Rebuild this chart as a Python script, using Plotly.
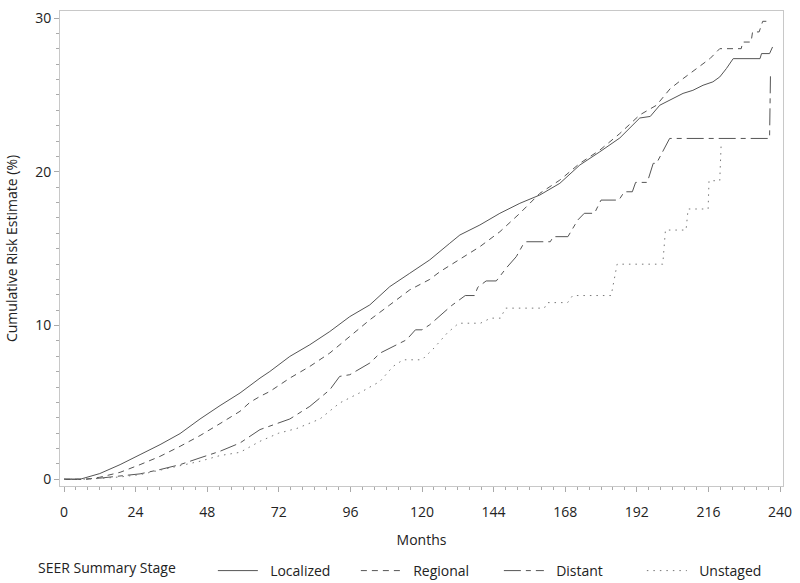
import plotly.graph_objects as go

# Months / cumulative risk (%)
loc_m = [0, 5.4, 12, 18.8, 25.5, 32.2, 38.9, 45.6, 52.3, 59, 65.7, 69, 75.7, 82.4, 89.1, 95.8,
         102.5, 109.2, 115.9, 122.6, 129.3, 132.7, 139.4, 146.1, 152.8, 159.5, 166.2, 172.9,
         179.6, 186.3, 193, 196.5, 199.7, 203, 207.5, 210.8, 214.2, 217.5, 219.8, 222, 224.3,
         233.3, 233.8, 236.5, 237.5]
loc_v = [0, 0, 0.37, 0.95, 1.6, 2.25, 2.97, 3.92, 4.79, 5.61, 6.58, 7.01, 7.99, 8.75, 9.61, 10.58,
         11.34, 12.53, 13.4, 14.27, 15.35, 15.89, 16.54, 17.3, 17.95, 18.49, 19.25, 20.44,
         21.3, 22.2, 23.5, 23.6, 24.33, 24.66, 25.1, 25.3, 25.63, 25.85, 26.17, 26.71, 27.36,
         27.36, 27.69, 27.69, 28.12]

reg_m = [0, 7.6, 12, 18.8, 25.5, 32.2, 38.9, 45.6, 52.3, 59, 62.3, 65.7, 69, 75.7, 82.4, 89.1,
         95.8, 102.5, 109.2, 115.9, 122.6, 126, 129.3, 132.7, 139.4, 146.1, 152.8, 159.5, 166.2,
         172.9, 179.6, 186.3, 193, 198.6, 203, 203.2, 207.5, 212, 216.5, 219.8, 227, 227.5,
         230.3, 230.8, 233, 234.2, 237]
reg_v = [0, 0, 0.13, 0.45, 0.95, 1.49, 2.14, 2.84, 3.62, 4.42, 5.0, 5.39, 5.71, 6.58, 7.34, 8.21,
         9.29, 10.37, 11.34, 12.32, 13.0, 13.5, 13.9, 14.3, 15.13, 16.1, 17.3, 18.6, 19.46,
         20.55, 21.41, 22.49, 23.7, 24.33, 25.3, 25.41, 26.06, 26.71, 27.36, 28.01, 28.01, 28.44,
         28.44, 29.1, 29.1, 29.79, 29.79]

dis_m = [0, 6, 12, 18.8, 25.5, 32.2, 38.9, 45.6, 52.3, 59, 65.7, 75.7, 82.4, 89.1, 92.4, 95.8,
         102.5, 106, 110.3, 114.8, 117.8, 120, 122.6, 127, 129.8, 134.5, 137.6, 138.7, 141.5,
         144.9, 148.2, 151.6, 153.8, 155, 163, 164, 168.9, 172.2, 174.4, 177.8, 180, 186, 187.8,
         190.5, 191.6, 195.5, 197.5, 198.6, 200.8, 203, 236.5, 236.8]
dis_v = [0, 0, 0.07, 0.2, 0.35, 0.63, 0.95, 1.39, 1.82, 2.36, 3.23, 3.92, 4.74, 5.82, 6.69, 6.8,
         7.56, 8.21, 8.64, 9.07, 9.72, 9.72, 10.05, 10.8, 11.28, 11.95, 11.95, 12.49, 12.9,
         12.9, 13.73, 14.48, 15.24, 15.45, 15.45, 15.78, 15.78, 16.86, 17.3, 17.3, 18.16, 18.16, 18.7,
         18.7, 19.31, 19.31, 20.55, 20.55, 21.4, 22.17, 22.17, 26.3]

uns_m = [0, 6, 12, 18.8, 25.5, 32.2, 38.9, 45.6, 52.3, 59, 65.7, 72, 78, 85.8, 92.4, 99, 105.9,
         110.3, 113.7, 120, 124, 128.4, 132.3, 139.6, 143, 146.3, 148, 161, 162, 168.8, 170.5,
         183.4, 185.4, 200.7, 201.6, 208.5, 209.2, 215.9, 216.2, 219.8, 220.3]
uns_v = [0, 0, 0.05, 0.15, 0.3, 0.6, 0.9, 1.17, 1.54, 1.75, 2.47, 3.0, 3.3, 3.92, 4.96, 5.61, 6.36,
         7.34, 7.77, 7.77, 8.53, 9.5, 10.15, 10.15, 10.48, 10.48, 11.13, 11.13, 11.49, 11.49, 11.95,
         11.95, 13.99, 13.99, 16.21, 16.21, 17.58, 17.58, 19.42, 19.42, 21.95]

x_ticks = [0, 24, 48, 72, 96, 120, 144, 168, 192, 216, 240]
y_ticks = [0, 10, 20, 30]

FONT = "Open Sans"
LINE = "#555555"
TXT = "#222222"
PAD = "\u00a0\u00a0"

fig = go.Figure()
fig.add_trace(go.Scatter(x=loc_m, y=loc_v, mode="lines", name=PAD + "Localized",
                         line=dict(color=LINE, width=1)))
fig.add_trace(go.Scatter(x=reg_m, y=reg_v, mode="lines", name=PAD + "Regional",
                         line=dict(color=LINE, width=1, dash="6px,5px")))
fig.add_trace(go.Scatter(x=dis_m, y=dis_v, mode="lines", name=PAD + "Distant",
                         line=dict(color=LINE, width=1, dash="17px,5px,5px,5px")))
fig.add_trace(go.Scatter(x=uns_m, y=uns_v, mode="lines", name=PAD + "Unstaged",
                         line=dict(color="#777777", width=1, dash="1.5px,5px")))

axis_common = dict(
    showgrid=False, zeroline=False, showline=True, mirror=True, automargin=False,
    linecolor="#c8c8c8", linewidth=1, ticks="outside", ticklen=5, tickcolor="#aaaaaa",
    tickfont=dict(family=FONT, size=14, color=TXT),
)

fig.update_xaxes(
    range=[-1.34, 241.0], tickvals=x_ticks, ticklabelstandoff=8,
    minor=dict(dtick=4, ticks="outside", ticklen=3, tickcolor="#aaaaaa"),
    title=dict(text="Months", font=dict(family=FONT, size=14, color=TXT), standoff=15),
    **axis_common,
)
fig.update_yaxes(
    range=[-0.44, 30.46], tickvals=y_ticks,
    minor=dict(dtick=1, ticks="outside", ticklen=3, tickcolor="#aaaaaa"),
    title=dict(text="Cumulative Risk Estimate (%)", font=dict(family=FONT, size=14, color=TXT),
               standoff=14),
    **axis_common,
)

fig.update_layout(
    width=800, height=583,
    margin=dict(l=60, r=17, t=11, b=97),
    paper_bgcolor="white", plot_bgcolor="white",
    font=dict(family=FONT, size=14, color=TXT),
    legend=dict(
        orientation="h", xref="container", yref="container",
        x=0.045, y=(583 - 571) / 583, xanchor="left", yanchor="middle",
        title=dict(text="SEER Summary Stage" + "\u00a0" * 8, side="left",
                   font=dict(family=FONT, size=14, color=TXT)),
        font=dict(family=FONT, size=14, color=TXT),
        entrywidth=88, entrywidthmode="pixels", itemwidth=40,
        bgcolor="rgba(0,0,0,0)",
    ),
)

fig.write_html("out.html", config={"displayModeBar": False},
               post_script="document.body.style.margin='0';")
